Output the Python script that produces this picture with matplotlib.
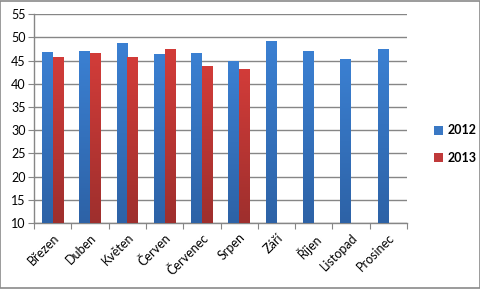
import matplotlib
matplotlib.use("Agg")
import matplotlib.pyplot as plt
import numpy as np
from matplotlib.patches import Patch, Rectangle
from matplotlib.colors import LinearSegmentedColormap

months = ["Březen", "Duben", "Květen", "Červen", "Červenec", "Srpen",
          "Září", "Říjen", "Listopad", "Prosinec"]
v2012 = [46.9, 47.0, 48.8, 46.4, 46.6, 44.9, 49.2, 47.0, 45.3, 47.5]
v2013 = [45.7, 46.6, 45.7, 47.5, 43.8, 43.1]
yticks = [10, 15, 20, 25, 30, 35, 40, 45, 50, 55]

plt.rcParams['font.family'] = ['Lato', 'DejaVu Sans']

fig = plt.figure(figsize=(4.81, 2.89), dpi=100)
fig.patches.append(Rectangle((0.001, 0.002), 0.997, 0.995, transform=fig.transFigure,
                             fill=False, edgecolor='#8a8a8a', linewidth=1.2))
ax = fig.add_axes([34/481, 1-223/289, (407-34)/481, (223-14.3)/289])

gap = 1.5
w = 1/(2+gap)
x = np.arange(len(months))
base = 10

blue_cmap = LinearSegmentedColormap.from_list('b', ['#2d62a6', '#3b80d2'])
red_cmap = LinearSegmentedColormap.from_list('r', ['#9e2f2d', '#d23c39'])

def draw(xpos, vals, cmap):
    bars = ax.bar(xpos, np.array(vals)-base, bottom=base, width=w, align='edge',
                  color=cmap(0.5), zorder=3, linewidth=0)
    grad = np.linspace(0, 1, 256).reshape(-1, 1)
    for b in bars:
        x0, y0 = b.get_x(), b.get_y()
        im = ax.imshow(grad, cmap=cmap, origin='lower', aspect='auto',
                       extent=[x0, x0+b.get_width(), y0, y0+b.get_height()],
                       zorder=4)
        im.set_clip_path(b)
    return bars

draw(x - w, v2012, blue_cmap)
draw(np.arange(len(v2013)), v2013, red_cmap)

ax.set_xlim(-0.5, len(months)-0.5)
ax.set_ylim(10, 55)
ax.set_yticks(yticks)
ax.yaxis.grid(True, color='#868686', linewidth=1, zorder=0)
ax.set_axisbelow(True)
for s in ['top', 'right']:
    ax.spines[s].set_visible(False)
for s in ['left', 'bottom']:
    ax.spines[s].set_color('#868686')
    ax.spines[s].set_linewidth(1)
ax.tick_params(axis='y', length=4, color='#868686', labelsize=9, pad=2)
ax.set_xticks(np.arange(len(months)+1)-0.5, minor=False)
ax.set_xticklabels([])
ax.tick_params(axis='x', which='major', length=4, color='#868686')
ax.set_xticks(x, minor=True)
ax.set_xticklabels(months, minor=True, rotation=45, ha='right',
                   rotation_mode='anchor', fontsize=9)
ax.tick_params(axis='x', which='minor', length=0, pad=6)

handles = [Patch(facecolor='#3a78c4', label='2012'),
           Patch(facecolor='#c0393a', label='2013')]
fig.legend(handles=handles, loc='center left', bbox_to_anchor=(423/481, 1-144/289),
           frameon=False, handlelength=0.7, handleheight=0.7, handletextpad=0.4,
           labelspacing=1.2, prop={'weight': 'bold', 'size': 9})

fig.savefig('out.png', dpi=100)
